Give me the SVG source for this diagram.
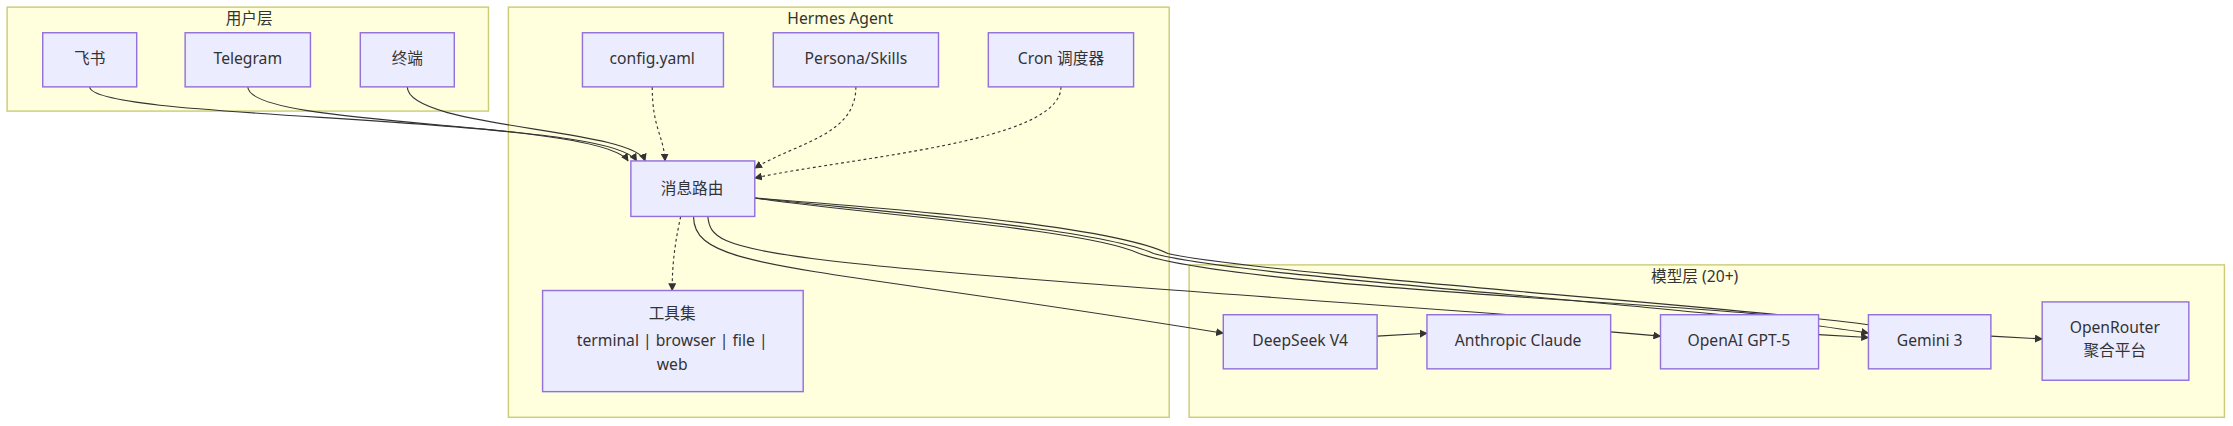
<svg xmlns="http://www.w3.org/2000/svg" width="2233" height="426" viewBox="0 0 2233 426">
<style>
.cl{fill:#ffffde;stroke:#cccc77;stroke-width:1}
.n{fill:#ececff;stroke:#9370db;stroke-width:1}
text{font-family:"Noto Sans","Noto Sans CJK SC",sans-serif;font-size:11px;fill:#333;text-anchor:middle;dominant-baseline:middle}
.e{fill:none;stroke:#333;stroke-width:0.8}
.d{stroke-dasharray:2 2}
</style>
<defs><marker id="a" viewBox="0 0 10 10" refX="9" refY="5" markerWidth="7" markerHeight="7" orient="auto"><path d="M0,0L10,5L0,10z" fill="#333"/></marker></defs>
<rect width="2233" height="426" fill="#fff"/>
<g transform="scale(1.4241)">
<g id="user-layer"><rect class="cl" x="5" y="5" width="338" height="73"/><text x="175" y="14">用户层</text></g>
<g id="hermes"><rect class="cl" x="357" y="5" width="464" height="288"/><text x="590" y="14">Hermes Agent</text></g>
<g id="model-layer"><rect class="cl" x="835" y="186" width="727" height="107"/><text x="1190" y="195">模型层 (20+)</text></g>
<g id="connectors">
<path class="e" d="M63,61C63,85 420,80 441,113" marker-end="url(#a)"/>
<path class="e" d="M174,61C174,90 430,85 447,113" marker-end="url(#a)"/>
<path class="e" d="M286,61C286,90 445,90 453,113" marker-end="url(#a)"/>
<path class="e d" d="M458,61C458,90 466,95 467,113" marker-end="url(#a)"/>
<path class="e d" d="M601,61C601,95 560,100 530,118" marker-end="url(#a)"/>
<path class="e d" d="M745,61C745,100 600,110 530,125" marker-end="url(#a)"/>
<path class="e d" d="M478,152C474,170 472,185 472,204" marker-end="url(#a)"/>
<path class="e" d="M487,152C487,190 560,185 859,234" marker-end="url(#a)"/>
<path class="e" d="M497,152C500,180 520,182 1060,221"/>
<path class="e" d="M530,139C600,150 760,160 800,178C860,200 1150,212 1240,221"/>
<path class="e" d="M530,139C610,148 770,160 810,178C870,195 1200,215 1312,234" marker-end="url(#a)"/>
<path class="e" d="M530,139C620,146 780,158 820,178C880,192 1250,218 1312,228"/>
<path class="e" d="M967,236L1002,234" marker-end="url(#a)"/>
<path class="e" d="M1131,233L1166,236" marker-end="url(#a)"/>
<path class="e" d="M1277,235L1312,237" marker-end="url(#a)"/>
<path class="e" d="M1398,236L1434,238" marker-end="url(#a)"/>
</g>
<g id="feishu"><rect class="n" x="30" y="23" width="66" height="38"/><text x="63" y="42">飞书</text></g>
<g id="telegram"><rect class="n" x="130" y="23" width="88" height="38"/><text x="174" y="42">Telegram</text></g>
<g id="terminal"><rect class="n" x="253" y="23" width="66" height="38"/><text x="286" y="42">终端</text></g>
<g id="config"><rect class="n" x="409" y="23" width="99" height="38"/><text x="458" y="42">config.yaml</text></g>
<g id="persona"><rect class="n" x="543" y="23" width="116" height="38"/><text x="601" y="42">Persona/Skills</text></g>
<g id="cron"><rect class="n" x="694" y="23" width="102" height="38"/><text x="745" y="42">Cron 调度器</text></g>
<g id="router"><rect class="n" x="443" y="113" width="87" height="39"/><text x="486" y="133">消息路由</text></g>
<g id="tools"><rect class="n" x="381" y="204" width="183" height="71"/><text x="472" y="221">工具集</text><text x="472" y="240">terminal | browser | file |</text><text x="472" y="257">web</text></g>
<g id="deepseek"><rect class="n" x="859" y="221" width="108" height="38"/><text x="913" y="240">DeepSeek V4</text></g>
<g id="claude"><rect class="n" x="1002" y="221" width="129" height="38"/><text x="1066" y="240">Anthropic Claude</text></g>
<g id="openai"><rect class="n" x="1166" y="221" width="111" height="38"/><text x="1221" y="240">OpenAI GPT-5</text></g>
<g id="gemini"><rect class="n" x="1312" y="221" width="86" height="38"/><text x="1355" y="240">Gemini 3</text></g>
<g id="openrouter"><rect class="n" x="1434" y="212" width="103" height="55"/><text x="1485" y="231">OpenRouter</text><text x="1485" y="247">聚合平台</text></g>
</g>
</svg>
